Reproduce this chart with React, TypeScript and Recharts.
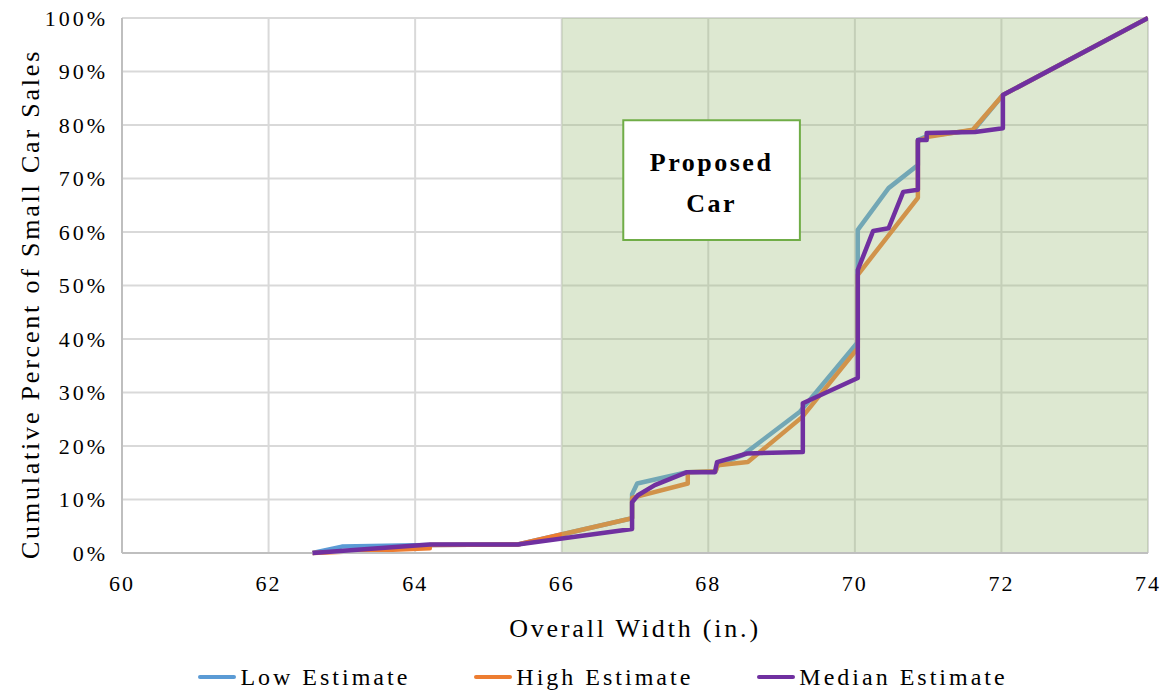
import { LineChart, Line, XAxis, YAxis, CartesianGrid, ReferenceArea, Legend, Label } from "recharts";

const xTicks = [60, 62, 64, 66, 68, 70, 72, 74];
const yTicks = [0, 10, 20, 30, 40, 50, 60, 70, 80, 90, 100];

// Low estimate
const lowWidth = [62.6, 63.0, 64.2, 65.4, 66.96, 66.96, 67.03, 67.71, 68.1, 68.13, 68.47, 69.25, 70.04, 70.04, 70.46, 70.86, 70.86, 71.0, 71.62, 72.02, 74];
const lowPct = [0, 1.2, 1.5, 1.6, 6.5, 11, 13, 15.1, 15.3, 16.4, 18.3, 26.4, 39.4, 60.4, 68.2, 72.5, 77.2, 78, 79, 85.6, 100];

// High estimate
const highWidth = [62.6, 64.2, 64.2, 65.4, 66.96, 66.96, 67.72, 67.72, 68.1, 68.13, 68.54, 69.28, 70.04, 70.04, 70.86, 70.86, 71.0, 71.61, 72.02, 74];
const highPct = [0, 0.9, 1.5, 1.6, 6.5, 10.3, 13, 15.1, 15.3, 16.4, 17.0, 25.4, 38.3, 52, 66.4, 77, 77.8, 79.1, 85.6, 100];

// Median estimate
const medWidth = [62.6, 64.2, 65.4, 66.96, 66.96, 67.04, 67.27, 67.71, 68.09, 68.12, 68.53, 69.29, 69.29, 70.04, 70.04, 70.25, 70.46, 70.66, 70.86, 70.86, 70.98, 70.98, 71.64, 72.02, 72.02, 74];
const medPct = [0, 1.6, 1.6, 4.5, 9.5, 10.8, 12.7, 15.1, 15.1, 17, 18.6, 18.9, 28, 32.7, 52.9, 60.2, 60.7, 67.5, 67.9, 77.2, 77.2, 78.5, 78.7, 79.4, 85.6, 100];

// proposed car range + annotation box
const proposedRange = [66, 74];
const boxX = [66.84, 69.25];
const boxY = [58.5, 80.9];

const toPoints = (xs: number[], ys: number[]) => xs.map((x, i) => ({ x, y: ys[i] }));

const lowData = toPoints(lowWidth, lowPct);
const highData = toPoints(highWidth, highPct);
const medData = toPoints(medWidth, medPct);

const FONT = "'Liberation Serif', 'Times New Roman', serif";

const legendItems = [
  { name: "Low Estimate", color: "#5B9BD5" },
  { name: "High Estimate", color: "#ED7D31" },
  { name: "Median Estimate", color: "#7030A0" },
];

const CustomLegend = () => (
  <div
    style={{
      height: 34,
      display: "flex",
      justifyContent: "center",
      alignItems: "center",
      gap: 64,
      paddingLeft: 58,
      fontFamily: FONT,
      fontSize: 24,
      letterSpacing: 3,
      color: "#000",
    }}
  >
    {legendItems.map((it) => (
      <div key={it.name} style={{ display: "flex", alignItems: "center" }}>
        <div style={{ width: 38, height: 4, borderRadius: 2, background: it.color, marginRight: 4 }} />
        <span>{it.name}</span>
      </div>
    ))}
  </div>
);

const BoxLabel = (props: any) => {
  const { x, y, width, height } = props.viewBox;
  const cx = x + width / 2;
  const cy = y + height / 2;
  return (
    <text
      x={cx}
      y={cy}
      textAnchor="middle"
      fontFamily={FONT}
      fontWeight="bold"
      fontSize={26}
      letterSpacing={2.5}
      fill="#000"
    >
      <tspan x={cx} dy={-9}>Proposed</tspan>
      <tspan x={cx} dy={41}>Car</tspan>
    </text>
  );
};

export default function App() {
  return (
    <div style={{ position: "absolute", left: 0, top: 0, background: "#fff" }}>
      <LineChart width={1167} height={698} margin={{ top: 18, right: 19, bottom: 4, left: 0 }}>
        <CartesianGrid stroke="#d9d9d9" strokeWidth={2} />
        <XAxis
          type="number"
          dataKey="x"
          domain={[60, 74]}
          ticks={xTicks}
          allowDataOverflow
          height={107}
          stroke="#bfbfbf"
          strokeWidth={2}
          tickLine={false}
          tickMargin={16}
          tick={{ fill: "#000", fontSize: 22, fontFamily: FONT, letterSpacing: 2 }}
        >
          <Label
            value="Overall Width (in.)"
            position="insideBottom"
            offset={23}
            style={{ fill: "#000", fontSize: 26, fontFamily: FONT, letterSpacing: 2.8 }}
          />
        </XAxis>
        <YAxis
          type="number"
          domain={[0, 100]}
          ticks={yTicks}
          width={122}
          stroke="#bfbfbf"
          strokeWidth={2}
          tickLine={false}
          tickMargin={8}
          tickFormatter={(v) => `${v}%`}
          tick={{ fill: "#000", fontSize: 22, fontFamily: FONT, letterSpacing: 3 }}
        >
          <Label
            value="Cumulative  Percent of Small  Car Sales"
            angle={-90}
            position="insideLeft"
            offset={30}
            viewBox={{ x: 0, y: 36, width: 122, height: 536 }}
            style={{ textAnchor: "middle", fill: "#000", fontSize: 26, fontFamily: FONT, letterSpacing: 2.8 }}
          />
        </YAxis>
        <Legend verticalAlign="bottom" content={<CustomLegend />} />
        <Line
          data={lowData}
          dataKey="y"
          name="Low Estimate"
          stroke="#5B9BD5"
          strokeWidth={4.5}
          strokeLinejoin="round"
          dot={false}
          activeDot={false}
          isAnimationActive={false}
          zIndex={400}
        />
        <Line
          data={highData}
          dataKey="y"
          name="High Estimate"
          stroke="#ED7D31"
          strokeWidth={4.5}
          strokeLinejoin="round"
          dot={false}
          activeDot={false}
          isAnimationActive={false}
          zIndex={401}
        />
        <ReferenceArea
          x1={proposedRange[0]}
          x2={proposedRange[1]}
          y1={0}
          y2={100}
          fill="#9ebd7c"
          fillOpacity={0.35}
          stroke="none"
          zIndex={450}
        />
        <Line
          data={medData}
          dataKey="y"
          name="Median Estimate"
          stroke="#7030A0"
          strokeWidth={4.5}
          strokeLinejoin="round"
          dot={false}
          activeDot={false}
          isAnimationActive={false}
          zIndex={500}
        />
        <ReferenceArea
          x1={boxX[0]}
          x2={boxX[1]}
          y1={boxY[0]}
          y2={boxY[1]}
          fill="#fff"
          fillOpacity={1}
          stroke="#70AD47"
          strokeWidth={2}
          label={BoxLabel}
          zIndex={600}
        />
      </LineChart>
    </div>
  );
}
